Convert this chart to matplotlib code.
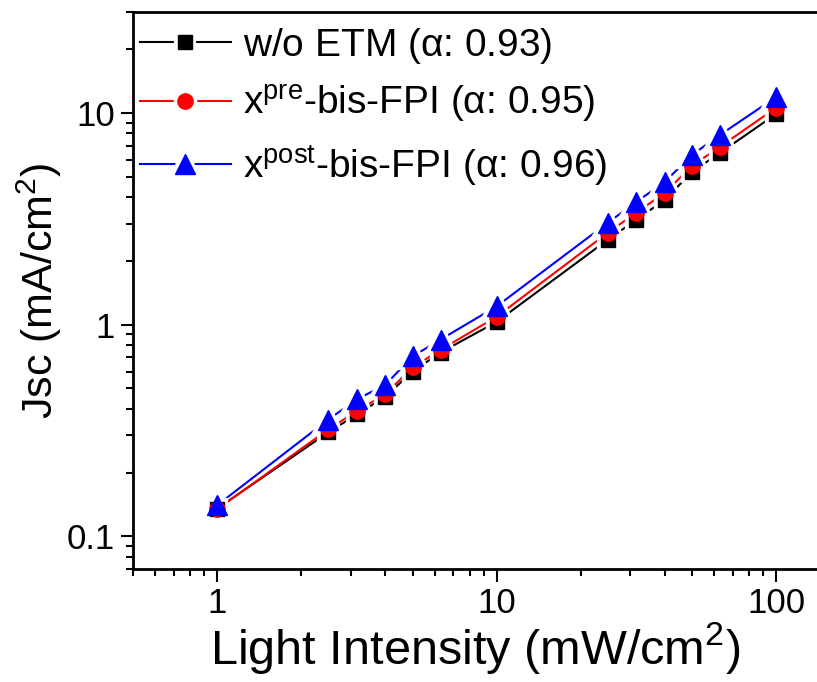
import matplotlib
matplotlib.use("Agg")
import matplotlib.pyplot as plt
from matplotlib.ticker import LogLocator, NullFormatter, FixedLocator, FixedFormatter
from matplotlib.legend_handler import HandlerTuple

plt.rcParams['font.family'] = ['Liberation Sans', 'DejaVu Sans']
plt.rcParams['mathtext.fontset'] = 'custom'
plt.rcParams['mathtext.rm'] = 'Liberation Sans'
plt.rcParams['mathtext.it'] = 'Liberation Serif:italic'
plt.rcParams['mathtext.default'] = 'regular'

# light intensity (mW/cm2)
intensity = [1, 2.5, 3.16, 4, 5, 6.3, 10, 25, 31.6, 40, 50, 63, 100]

# Jsc (mA/cm2)
jsc_wo = [0.135, 0.31, 0.376, 0.457, 0.60, 0.738, 1.03, 2.52, 3.13, 3.89, 5.27, 6.48, 9.9]
jsc_pre = [0.134, 0.32, 0.39, 0.47, 0.627, 0.76, 1.09, 2.72, 3.38, 4.2, 5.63, 6.92, 10.6]
jsc_post = [0.14, 0.356, 0.443, 0.52, 0.707, 0.85, 1.22, 3.03, 3.80, 4.73, 6.34, 7.88, 11.9]

series = [
    (jsc_wo, "black", "s", 10.5, r"w/o ETM ($\alpha$: 0.93)"),
    (jsc_pre, "red", "o", 11, r"x$^{pre}$-bis-FPI ($\alpha$: 0.95)"),
    (jsc_post, "blue", "^", 14, r"x$^{post}$-bis-FPI ($\alpha$: 0.96)"),
]

fig = plt.figure(figsize=(8.17, 6.82), dpi=100)
ax = fig.add_axes([0.1628, 0.1657, 0.8372, 0.8167])

handles = []
labels = []
for i, (y, c, m, ms, lab) in enumerate(series):
    # line, then a white halo so the line breaks near each marker (Origin look)
    ln, = ax.plot(intensity, y, color=c, lw=1.5, zorder=2)
    halo, = ax.plot(intensity, y, ls="none", marker=m, ms=ms, mfc="white",
                    mec="white", mew=6, zorder=3)
    mk, = ax.plot(intensity, y, ls="none", marker=m, ms=ms, color=c, zorder=4 + i)
    handles.append((ln, halo, mk))
    labels.append(lab)

ax.set_xscale("log")
ax.set_yscale("log")
ax.set_xlim(0.5, 140)
ax.set_ylim(0.07, 30)

ax.xaxis.set_major_locator(FixedLocator([1, 10, 100]))
ax.xaxis.set_major_formatter(FixedFormatter(["1", "10", "100"]))
ax.xaxis.set_minor_locator(LogLocator(base=10, subs=range(2, 10)))
ax.xaxis.set_minor_formatter(NullFormatter())
ax.yaxis.set_major_locator(FixedLocator([0.1, 1, 10]))
ax.yaxis.set_major_formatter(FixedFormatter(["0.1", "1", "10"]))
ax.yaxis.set_minor_locator(LogLocator(base=10, subs=range(2, 10)))
ax.yaxis.set_minor_formatter(NullFormatter())

ax.tick_params(which="major", direction="out", length=9, width=1.5, labelsize=25, pad=4)
ax.tick_params(which="minor", direction="out", length=5, width=1.5)
ax.tick_params(top=False, right=False, which="both")

for side in ["left", "bottom", "top"]:
    ax.spines[side].set_linewidth(2)
ax.spines["right"].set_visible(False)

ax.set_xlabel(r"Light Intensity (mW/cm$^2$)", fontsize=35, labelpad=0)
ax.set_ylabel(r"Jsc (mA/cm$^2$)", fontsize=31, labelpad=2)

ax.legend(handles, labels, handler_map={tuple: HandlerTuple(ndivide=1)},
          loc="upper left", bbox_to_anchor=(-0.01, 1.0), frameon=False,
          fontsize=28, handlelength=2.35, handletextpad=0.3, labelspacing=0.45,
          borderaxespad=0.2, borderpad=0.15)

fig.savefig("out.png", dpi=100)
